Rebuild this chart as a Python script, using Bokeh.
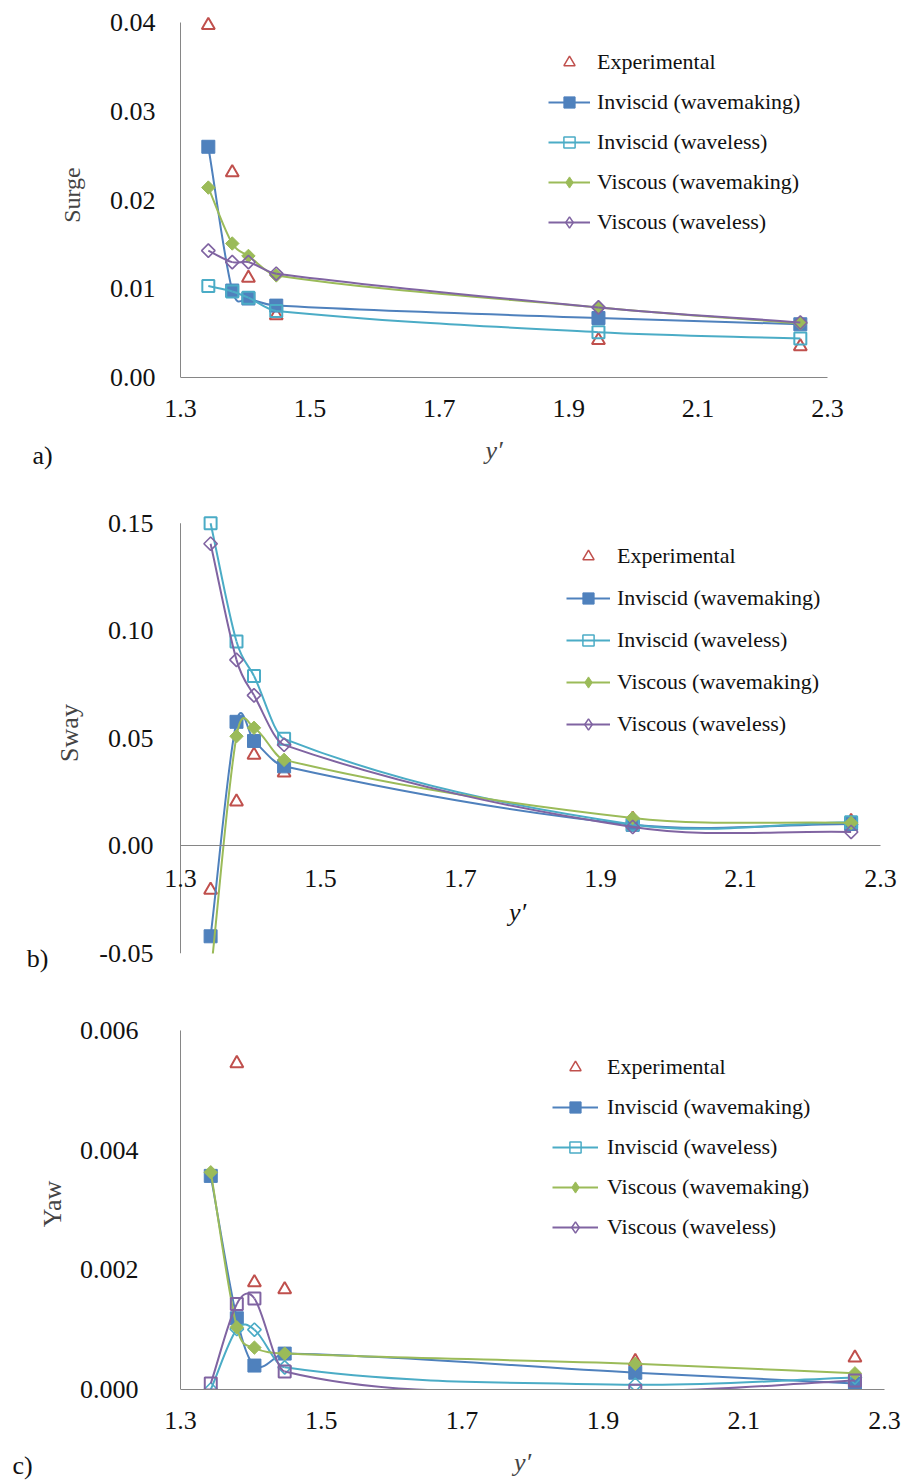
import numpy as np
from bokeh.plotting import figure
from bokeh.layouts import column
from bokeh.models import (Legend, LegendItem, FixedTicker, PrintfTickFormatter,
                          Label, ColumnDataSource, Range1d)
from bokeh.embed import file_html
from bokeh.resources import INLINE

# ---------------- data ----------------
y_prime = [1.343, 1.38, 1.405, 1.448, 1.946, 2.258]

surge_exp    = [0.0397, 0.0231, 0.0112, 0.0070, 0.0042, 0.0035]
surge_inv_wm = [0.0260, 0.0098, 0.0089, 0.0081, 0.0067, 0.0060]
surge_inv_wl = [0.0103, 0.0097, 0.0090, 0.0075, 0.0051, 0.0044]
surge_vis_wm = [0.0214, 0.0151, 0.0137, 0.0115, 0.0079, 0.0061]
surge_vis_wl = [0.0143, 0.0130, 0.0130, 0.0117, 0.0079, 0.0062]

sway_exp    = [-0.0205, 0.0205, 0.0423, 0.0340, 0.0125, 0.0115]
sway_inv_wm = [-0.0420, 0.0577, 0.0488, 0.0370, 0.0098, 0.0102]
sway_inv_wl = [0.1500, 0.0950, 0.0790, 0.0498, 0.0100, 0.0110]
sway_vis_wm = [-0.0600, 0.0510, 0.0549, 0.0400, 0.0130, 0.0107]
sway_vis_wl = [0.1405, 0.0865, 0.0700, 0.0470, 0.0088, 0.0065]

yaw_exp    = [np.nan, 0.00545, 0.00179, 0.00167, 0.00047, 0.00053]
yaw_inv_wm = [0.00357, 0.00119, 0.00040, 0.00060, 0.00028, 0.00010]
yaw_inv_wl = [0.00000, 0.00101, 0.00100, 0.00037, 0.00008, 0.00020]
yaw_vis_wm = [0.00363, 0.00104, 0.00070, 0.00060, 0.00043, 0.00027]
yaw_vis_wl = [0.00010, 0.00143, 0.00152, 0.00030, -0.00002, 0.00015]

x_ticks = [1.3, 1.5, 1.7, 1.9, 2.1, 2.3]
surge_ticks = [0.0, 0.01, 0.02, 0.03, 0.04]
sway_ticks = [-0.05, 0.0, 0.05, 0.10, 0.15]
yaw_ticks = [0.0, 0.002, 0.004, 0.006]

series_labels = ["Experimental", "Inviscid (wavemaking)", "Inviscid (waveless)",
                 "Viscous (wavemaking)", "Viscous (waveless)"]

RED = "#C0504D"
BLUE = "#4F81BD"
CYAN = "#4BACC6"
GREEN = "#9BBB59"
PURPLE = "#8064A2"
AXIS = "#868686"
FONT = "Liberation Serif"
LEFT = 160          # frame left edge (pixels) in every panel
X0 = 180            # pixel where y' = 1.3 sits


def smooth_line(p, xs, ys, color):
    # cubic Hermite curve through the points (tangents from neighbouring points)
    x = np.asarray(xs, float)
    y = np.asarray(ys, float)
    n = len(x)
    m = np.empty(n)
    m[0] = (y[1] - y[0]) / (x[1] - x[0])
    m[-1] = (y[-1] - y[-2]) / (x[-1] - x[-2])
    m[1:-1] = (y[2:] - y[:-2]) / (x[2:] - x[:-2])
    dx = x[1:] - x[:-1]
    p.bezier(x0=x[:-1], y0=y[:-1], x1=x[1:], y1=y[1:],
             cx0=x[:-1] + dx / 3, cy0=y[:-1] + m[:-1] * dx / 3,
             cx1=x[1:] - dx / 3, cy1=y[1:] - m[1:] * dx / 3,
             line_color=color, line_width=2)


MARKERS = {
    "tri":  dict(marker="triangle", size=13, fill_color=None, line_width=2),
    "sq":   dict(marker="square", size=13, line_width=1),
    "osq":  dict(marker="square", size=12, fill_color=None, line_width=2),
    "dia":  dict(marker="square", size=9.5, angle=np.pi / 4, line_width=1),
    "odia": dict(marker="square", size=9.5, angle=np.pi / 4, fill_color=None, line_width=1.6),
}


def draw_series(p, ys, color, mk, line=True):
    if line:
        smooth_line(p, y_prime, ys, color)
    kw = dict(MARKERS[mk])
    if "fill_color" not in kw:
        kw["fill_color"] = color
    p.scatter(y_prime, ys, line_color=color, **kw)


def add_legend(p, loc, standoff, glyph_w, spacing):
    spec = [(RED, "triangle", None, False),
            (BLUE, "square", BLUE, True),
            (CYAN, "square", None, True),
            (GREEN, "diamond", GREEN, True),
            (PURPLE, "diamond", None, True)]
    items = []
    for lab, (col, mk, fill, has_line) in zip(series_labels, spec):
        src = ColumnDataSource(dict(x=[np.nan], y=[np.nan]))
        rs = []
        if has_line:
            rs.append(p.line("x", "y", source=src, line_color=col, line_width=2))
        rs.append(p.scatter("x", "y", source=src, marker=mk, line_color=col,
                            fill_color=fill, line_width=1.5 if fill is None else 1))
        items.append(LegendItem(label=lab, renderers=rs))
    leg = Legend(items=items, location=loc, border_line_color=None,
                 background_fill_alpha=0, padding=0, margin=0,
                 glyph_width=glyph_w, glyph_height=28, label_height=28,
                 label_standoff=standoff, spacing=spacing,
                 label_text_font=FONT, label_text_font_size="22px",
                 label_text_color="#111111")
    p.add_layout(leg, "center")


def style(p, yt, yfmt, ylabel, ylabel_size, ystandoff, ylab_standoff):
    p.xgrid.visible = False
    p.ygrid.visible = False
    p.outline_line_color = None
    for ax in (p.xaxis[0], p.yaxis[0]):
        ax.axis_line_color = AXIS
        ax.axis_line_width = 1
        ax.major_tick_line_color = None
        ax.minor_tick_line_color = None
        ax.major_tick_out = 0
        ax.major_tick_in = 0
        ax.major_label_text_font = FONT
        ax.major_label_text_font_size = "26px"
        ax.major_label_text_color = "#111111"
    p.xaxis[0].ticker = FixedTicker(ticks=x_ticks)
    p.xaxis[0].formatter = PrintfTickFormatter(format="%.1f")
    p.xaxis[0].bounds = (x_ticks[0], x_ticks[-1])
    yax = p.yaxis[0]
    yax.ticker = FixedTicker(ticks=yt)
    yax.formatter = PrintfTickFormatter(format=yfmt)
    yax.axis_line_color = None
    yax.major_label_standoff = ystandoff
    yax.axis_label = ylabel
    yax.axis_label_text_font = FONT
    yax.axis_label_text_font_style = "normal"
    yax.axis_label_text_font_size = ylabel_size
    yax.axis_label_standoff = ylab_standoff
    # vertical axis line at y' = 1.3, spanning the tick range
    p.segment(x0=[x_ticks[0]], y0=[yt[0]], x1=[x_ticks[0]], y1=[yt[-1]],
              line_color=AXIS, line_width=1)


def x_title(p, standoff):
    ax = p.xaxis[0]
    ax.axis_label = "y′"
    ax.axis_label_text_font = FONT
    ax.axis_label_text_font_size = "26px"
    ax.axis_label_text_font_style = "italic"
    ax.axis_label_standoff = standoff


def text_label(p, x, y, text, side="center", italic=False):
    p.add_layout(Label(x=x, y=y, x_units="screen", y_units="screen", text=text,
                       text_font=FONT, text_font_size="26px",
                       text_align="center", text_baseline="middle",
                       text_font_style="italic" if italic else "normal",
                       text_color="#111111"), side)


common = dict(output_backend="svg", toolbar_location=None, min_border_left=LEFT)

# ---------------- panel a ----------------
a_px = 647.0   # pixels per unit of y'
pa = figure(frame_width=827 - LEFT, frame_height=365, min_border_top=12,
            min_border_bottom=108, min_border_right=80,
            x_range=Range1d(1.3 - (X0 - LEFT) / a_px, 2.3), y_range=Range1d(0, 0.04113),
            **common)
style(pa, surge_ticks, "%.2f", "Surge", "24px", LEFT - 155, 22)
pa.xaxis[0].major_label_standoff = 22
x_title(pa, 16)
draw_series(pa, surge_exp, RED, "tri", line=False)
draw_series(pa, surge_inv_wm, BLUE, "sq")
draw_series(pa, surge_inv_wl, CYAN, "osq")
draw_series(pa, surge_vis_wm, GREEN, "dia")
draw_series(pa, surge_vis_wl, PURPLE, "odia")
add_legend(pa, (548 - LEFT, 141), 7, 42, 12)
text_label(pa, 7, 377 - 455, "a)", side="left")

# ---------------- panel b ----------------
b_px = 700.0
pb = figure(frame_width=901 - LEFT, frame_height=441, min_border_top=27,
            min_border_bottom=37, min_border_right=6,
            x_range=Range1d(1.3 - (X0 - LEFT) / b_px, 2.33), y_range=Range1d(-0.05, 0.155),
            **common)
style(pb, sway_ticks, "%.2f", "Sway", "26px", LEFT - 153, 12)
pb.xaxis[0].fixed_location = 0
pb.xaxis[0].major_label_standoff = 24
draw_series(pb, sway_exp, RED, "tri", line=False)
draw_series(pb, sway_inv_wm, BLUE, "sq")
draw_series(pb, sway_inv_wl, CYAN, "osq")
draw_series(pb, sway_vis_wm, GREEN, "dia")
draw_series(pb, sway_vis_wl, PURPLE, "odia")
add_legend(pb, (566 - LEFT, 215), 7, 44, 14)
text_label(pb, 517 - LEFT, 953 - 912, "y′", italic=True)
text_label(pb, 7, 953 - 958, "b)", side="left")

# ---------------- panel c ----------------
c_px = 704.0
pc = figure(frame_width=884 - LEFT, frame_height=371, min_border_top=28,
            min_border_bottom=94, min_border_right=23,
            x_range=Range1d(1.3 - (X0 - LEFT) / c_px, 2.3), y_range=Range1d(0, 0.0062),
            **common)
style(pc, yaw_ticks, "%.3f", "Yaw", "26px", LEFT - 138, 10)
pc.xaxis[0].major_label_standoff = 22
x_title(pc, 16)
draw_series(pc, yaw_exp, RED, "tri", line=False)
draw_series(pc, yaw_inv_wm, BLUE, "sq")
draw_series(pc, yaw_inv_wl, CYAN, "odia")
draw_series(pc, yaw_vis_wm, GREEN, "dia")
draw_series(pc, yaw_vis_wl, PURPLE, "osq")
add_legend(pc, (552 - LEFT, 148), 9, 46, 12)
text_label(pc, 8, 1389 - 1465, "c)", side="left")

layout = column(pa, pb, pc, spacing=0)
open("out.html", "w").write(file_html(layout, INLINE))
